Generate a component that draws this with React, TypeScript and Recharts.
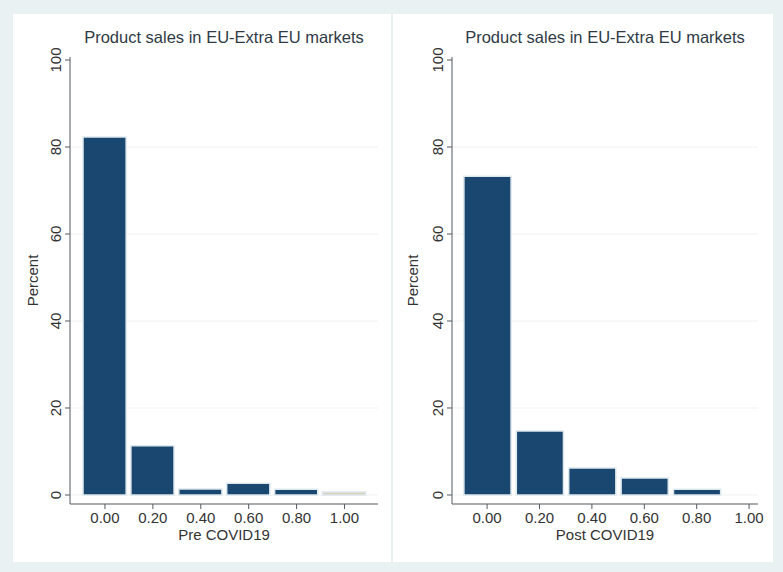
import { Bar, BarChart, CartesianGrid, Cell, XAxis, YAxis } from "recharts";

const chartTitle = "Product sales in EU-Extra EU markets";

const preMid = [0, 0.2, 0.4, 0.6, 0.8, 1.0];
const prePercent = [82.3, 11.3, 1.4, 2.7, 1.3, 0.7];
const postMid = [0, 0.2, 0.4, 0.6, 0.8];
const postPercent = [73.3, 14.7, 6.2, 3.9, 1.3];

const xTicks = [0, 0.2, 0.4, 0.6, 0.8, 1.0];
const yTicks = [0, 20, 40, 60, 80, 100];
const gridTicks = [0, 20, 40, 60, 80];
const binWidth = 0.2;

const NAVY = "#1a476f";
const AXIS = "#555b60";
const FONT = "'Liberation Sans', Arial, sans-serif";

type PanelProps = {
  left: number;
  width: number;
  plotLeft: number;
  plotRight: number;
  xDomain: [number, number];
  mids: number[];
  values: number[];
  xLabel: string;
  fadedLast?: boolean;
};

const PANEL_H = 548;
const PLOT_TOP = 43;
const X_AXIS_H = 58;

function YTick(props: any) {
  const { x, y, payload } = props;
  return (
    <text
      x={x}
      y={y}
      transform={`rotate(-90, ${x}, ${y})`}
      textAnchor="middle"
      fontSize={15}
      fill="#333"
      fontFamily={FONT}
    >
      {payload.value}
    </text>
  );
}

function Panel({ left, width, plotLeft, plotRight, xDomain, mids, values, xLabel, fadedLast }: PanelProps) {
  const data = mids.map((m, i) => ({ mid: m, pct: values[i] }));
  const plotW = width - plotLeft - plotRight;
  const barPx = (binWidth * plotW) / (xDomain[1] - xDomain[0]);

  return (
    <div
      style={{
        position: "absolute",
        left,
        top: 14,
        width,
        height: PANEL_H,
        background: "#ffffff",
      }}
    >
      <div
        style={{
          position: "absolute",
          left: plotLeft,
          width: plotW,
          top: 14,
          textAlign: "center",
          fontFamily: FONT,
          fontSize: 16.5,
          color: "#2f3a45",
          whiteSpace: "nowrap",
        }}
      >
        {chartTitle}
      </div>
      <BarChart
        width={width}
        height={PANEL_H}
        data={data}
        margin={{ top: PLOT_TOP, right: plotRight, left: 0, bottom: 0 }}
      >
        <CartesianGrid
          vertical={false}
          horizontalValues={gridTicks}
          stroke="#eef1f3"
        />
        <XAxis
          dataKey="mid"
          type="number"
          domain={xDomain}
          ticks={xTicks}
          allowDataOverflow
          tickFormatter={(v: number) => v.toFixed(2)}
          height={X_AXIS_H}
          stroke={AXIS}
          tickSize={5}
          tickMargin={3}
          tick={{ fontSize: 15, fill: "#333", fontFamily: FONT }}
          label={{
            content: (p: any) => (
              <text
                x={p.viewBox.x + p.viewBox.width / 2}
                y={p.viewBox.y + 36}
                textAnchor="middle"
                fontSize={15}
                fill="#333"
                fontFamily={FONT}
              >
                {xLabel}
              </text>
            ),
          }}
        />
        <YAxis
          type="number"
          domain={[-2.07, 100.69]}
          ticks={yTicks}
          allowDataOverflow
          width={plotLeft}
          stroke={AXIS}
          tickSize={5}
          tickMargin={4}
          tick={<YTick />}
          label={{
            content: (p: any) => {
              const cx = p.viewBox.x + 25;
              const cy = p.viewBox.y + p.viewBox.height / 2;
              return (
                <text
                  x={cx}
                  y={cy}
                  transform={`rotate(-90, ${cx}, ${cy})`}
                  textAnchor="middle"
                  fontSize={15}
                  fill="#333"
                  fontFamily={FONT}
                >
                  Percent
                </text>
              );
            },
          }}
        />
        <Bar
          dataKey="pct"
          barSize={barPx}
          fill={NAVY}
          stroke="#dde8ee"
          strokeWidth={1.5}
          isAnimationActive={false}
        >
          {data.map((d, i) => (
            <Cell
              key={d.mid}
              fill={fadedLast && i === data.length - 1 ? "#d6d3bb" : NAVY}
            />
          ))}
        </Bar>
      </BarChart>
    </div>
  );
}

export default function App() {
  return (
    <div
      style={{
        position: "fixed",
        left: 0,
        top: 0,
        width: 783,
        height: 572,
        background: "#e9f1f3",
      }}
    >
      <Panel
        left={13}
        width={378}
        plotLeft={57}
        plotRight={13}
        xDomain={[-0.146, 1.14]}
        mids={preMid}
        values={prePercent}
        xLabel="Pre COVID19"
        fadedLast
      />
      <Panel
        left={393}
        width={380}
        plotLeft={59}
        plotRight={15}
        xDomain={[-0.134, 1.034]}
        mids={postMid}
        values={postPercent}
        xLabel="Post COVID19"
      />
    </div>
  );
}
